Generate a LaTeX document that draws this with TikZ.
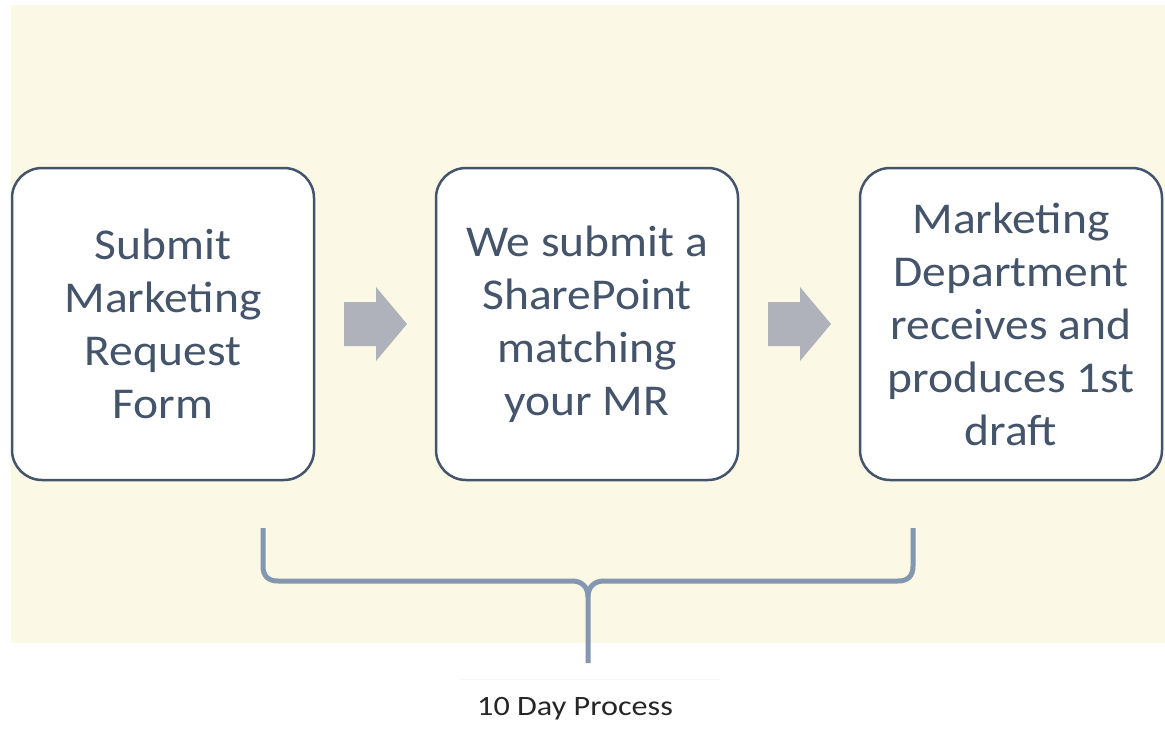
\documentclass[tikz,border=0pt]{standalone}
\usepackage{fontspec}
\usepackage{graphicx}
\setmainfont{Carlito}
\usetikzlibrary{calc}
\definecolor{bgcream}{HTML}{FCF8E6}
\definecolor{boxline}{HTML}{44546A}
\definecolor{bracecol}{HTML}{8497B0}
\definecolor{arrowgray}{HTML}{AFB2BA}
\definecolor{labelcol}{HTML}{262626}
\newcommand{\wide}[2]{\scalebox{#1}[1]{#2}}
\tikzset{
  stepbox/.style={draw=boxline, line width=2.5pt, fill=white, rounded corners=30pt,
    minimum width=302pt, minimum height=312pt, inner sep=0pt, align=center,
    text=boxline, font=\fontsize{44}{53}\selectfont},
  flowarrow/.style={fill=arrowgray},
  bracestyle/.style={draw=bracecol, line width=5pt},
}
\begin{document}
\begin{tikzpicture}[x=1pt,y=-1pt]
\useasboundingbox (0,0) rectangle (1165,729);
\fill[white] (0,0) rectangle (1165,729);
\fill[bgcream] (11,5) rectangle (1165,643);

\node[stepbox] (b1) at (163,324) {\wide{1.08}{Submit}\\\wide{1.08}{Marketing}\\\wide{1.08}{Request}\\\wide{1.08}{Form}};
\node[stepbox] (b2) at (587,324) {\wide{1.08}{We submit a}\\\wide{1.08}{SharePoint}\\\wide{1.08}{matching}\\\wide{1.08}{your MR}};
\node[stepbox] (b3) at (1011,324) {\wide{1.08}{Marketing}\\\wide{1.08}{Department}\\\wide{1.08}{receives and}\\\wide{1.08}{produces 1st}\\\wide{1.08}{draft}};

\coordinate (m1) at ($(b1.east)!0.5!(b2.west)$);
\coordinate (m2) at ($(b2.east)!0.5!(b3.west)$);
\foreach \m in {m1,m2}{
  \fill[flowarrow] ([shift={(-31,-22)}]\m) -- ([shift={(1,-22)}]\m) -- ([shift={(1,-37)}]\m)
    -- ([shift={(32,0)}]\m) -- ([shift={(1,37)}]\m) -- ([shift={(1,22)}]\m)
    -- ([shift={(-31,22)}]\m) -- cycle;
}

\coordinate (bl) at (263,528);
\coordinate (br) at (913,528);
\coordinate (bm) at (588,663);
\draw[bracestyle] (bl) -- (263,566) .. controls (263,576) and (268,581) .. (278,581) -- (572,581)
  .. controls (582,581) and (588,587) .. (588,597) -- (bm);
\draw[bracestyle] (br) -- (913,566) .. controls (913,576) and (908,581) .. (898,581) -- (604,581)
  .. controls (594,581) and (588,587) .. (588,597);

\draw[gray!6, line width=1pt] (460,679) -- (720,679);
\node[text=labelcol, font=\fontsize{28}{32}\selectfont, inner sep=0pt] (lbl) at (575,709) {\wide{1.15}{10 Day Process}};
\end{tikzpicture}
\end{document}
